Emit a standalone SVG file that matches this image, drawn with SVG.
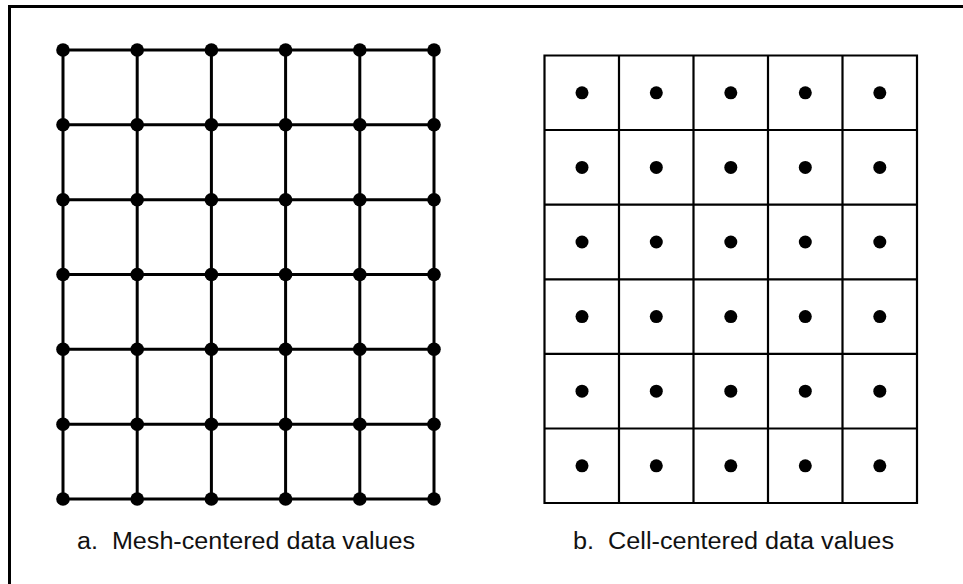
<svg xmlns="http://www.w3.org/2000/svg" width="963" height="584" viewBox="0 0 963 584">
<style>
.frame{stroke:#000;stroke-width:3;fill:none}
.mesh{stroke:#000;stroke-width:3;fill:none}
.cell{stroke:#000;stroke-width:2.2;fill:none}
.node{fill:#000}
.lbl{font-family:"Liberation Sans",Arial,sans-serif;font-size:23px;fill:#111}
</style>
<rect width="963" height="584" fill="#fff"/>
<path class="frame" d="M9.5,584 V6.5 H963"/>
<g id="connectors">
<path class="mesh" d="M63,50 H434 M63,124.8 H434 M63,199.7 H434 M63,274.5 H434 M63,349.3 H434 M63,424.2 H434 M63,499 H434 M63,50 V499 M137.2,50 V499 M211.4,50 V499 M285.6,50 V499 M359.8,50 V499 M434,50 V499"/>
</g>
<g id="mesh-nodes" class="node">
<g id="r0"><circle cx="63" cy="50" r="6.8"/><circle cx="137.2" cy="50" r="6.8"/><circle cx="211.4" cy="50" r="6.8"/><circle cx="285.6" cy="50" r="6.8"/><circle cx="359.8" cy="50" r="6.8"/><circle cx="434" cy="50" r="6.8"/></g>
<g id="r1"><circle cx="63" cy="124.8" r="6.8"/><circle cx="137.2" cy="124.8" r="6.8"/><circle cx="211.4" cy="124.8" r="6.8"/><circle cx="285.6" cy="124.8" r="6.8"/><circle cx="359.8" cy="124.8" r="6.8"/><circle cx="434" cy="124.8" r="6.8"/></g>
<g id="r2"><circle cx="63" cy="199.7" r="6.8"/><circle cx="137.2" cy="199.7" r="6.8"/><circle cx="211.4" cy="199.7" r="6.8"/><circle cx="285.6" cy="199.7" r="6.8"/><circle cx="359.8" cy="199.7" r="6.8"/><circle cx="434" cy="199.7" r="6.8"/></g>
<g id="r3"><circle cx="63" cy="274.5" r="6.8"/><circle cx="137.2" cy="274.5" r="6.8"/><circle cx="211.4" cy="274.5" r="6.8"/><circle cx="285.6" cy="274.5" r="6.8"/><circle cx="359.8" cy="274.5" r="6.8"/><circle cx="434" cy="274.5" r="6.8"/></g>
<g id="r4"><circle cx="63" cy="349.3" r="6.8"/><circle cx="137.2" cy="349.3" r="6.8"/><circle cx="211.4" cy="349.3" r="6.8"/><circle cx="285.6" cy="349.3" r="6.8"/><circle cx="359.8" cy="349.3" r="6.8"/><circle cx="434" cy="349.3" r="6.8"/></g>
<g id="r5"><circle cx="63" cy="424.2" r="6.8"/><circle cx="137.2" cy="424.2" r="6.8"/><circle cx="211.4" cy="424.2" r="6.8"/><circle cx="285.6" cy="424.2" r="6.8"/><circle cx="359.8" cy="424.2" r="6.8"/><circle cx="434" cy="424.2" r="6.8"/></g>
<g id="r6"><circle cx="63" cy="499" r="6.8"/><circle cx="137.2" cy="499" r="6.8"/><circle cx="211.4" cy="499" r="6.8"/><circle cx="285.6" cy="499" r="6.8"/><circle cx="359.8" cy="499" r="6.8"/><circle cx="434" cy="499" r="6.8"/></g>
</g>
<g id="cell-grid">
<path class="cell" d="M544.5,55.5 H917 V503 H544.5 Z M619,55.5 V503 M693.5,55.5 V503 M768,55.5 V503 M842.5,55.5 V503 M544.5,130 H917 M544.5,204.7 H917 M544.5,279.3 H917 M544.5,353.8 H917 M544.5,428.5 H917"/>
</g>
<g id="cell-nodes" class="node">
<g id="c0"><circle cx="582" cy="92.8" r="6.5"/><circle cx="656.3" cy="92.8" r="6.5"/><circle cx="730.8" cy="92.8" r="6.5"/><circle cx="805.3" cy="92.8" r="6.5"/><circle cx="879.8" cy="92.8" r="6.5"/></g>
<g id="c1"><circle cx="582" cy="167.4" r="6.5"/><circle cx="656.3" cy="167.4" r="6.5"/><circle cx="730.8" cy="167.4" r="6.5"/><circle cx="805.3" cy="167.4" r="6.5"/><circle cx="879.8" cy="167.4" r="6.5"/></g>
<g id="c2"><circle cx="582" cy="242" r="6.5"/><circle cx="656.3" cy="242" r="6.5"/><circle cx="730.8" cy="242" r="6.5"/><circle cx="805.3" cy="242" r="6.5"/><circle cx="879.8" cy="242" r="6.5"/></g>
<g id="c3"><circle cx="582" cy="316.6" r="6.5"/><circle cx="656.3" cy="316.6" r="6.5"/><circle cx="730.8" cy="316.6" r="6.5"/><circle cx="805.3" cy="316.6" r="6.5"/><circle cx="879.8" cy="316.6" r="6.5"/></g>
<g id="c4"><circle cx="582" cy="391.2" r="6.5"/><circle cx="656.3" cy="391.2" r="6.5"/><circle cx="730.8" cy="391.2" r="6.5"/><circle cx="805.3" cy="391.2" r="6.5"/><circle cx="879.8" cy="391.2" r="6.5"/></g>
<g id="c5"><circle cx="582" cy="465.8" r="6.5"/><circle cx="656.3" cy="465.8" r="6.5"/><circle cx="730.8" cy="465.8" r="6.5"/><circle cx="805.3" cy="465.8" r="6.5"/><circle cx="879.8" cy="465.8" r="6.5"/></g>
</g>
<g id="labels">
<text class="lbl" x="77" y="549" xml:space="preserve" textLength="338" lengthAdjust="spacingAndGlyphs">a.  Mesh-centered data values</text>
<text class="lbl" x="573" y="549" xml:space="preserve" textLength="321" lengthAdjust="spacingAndGlyphs">b.  Cell-centered data values</text>
</g>
</svg>
